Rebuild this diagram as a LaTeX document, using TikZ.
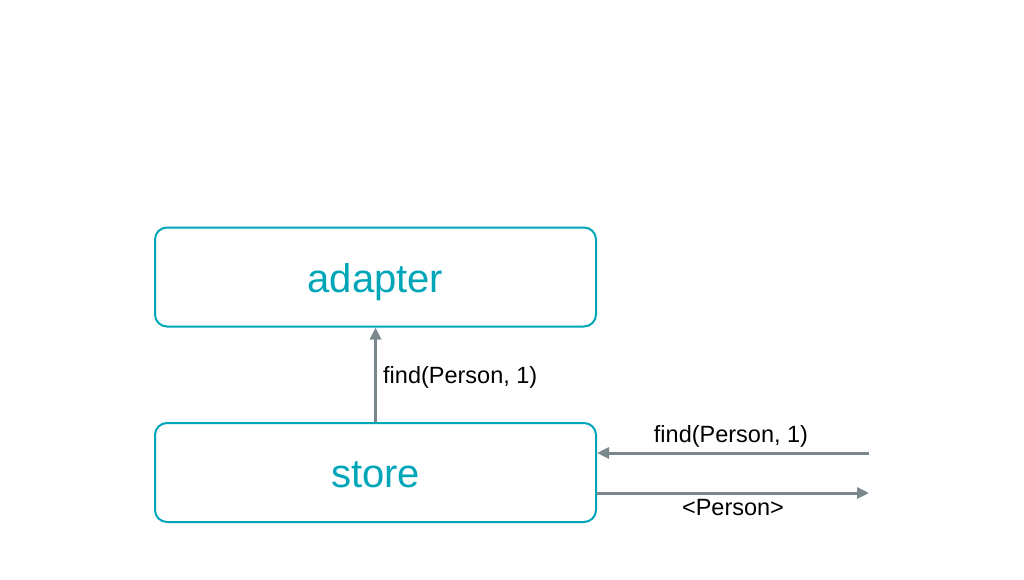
\documentclass[tikz,border=0pt]{standalone}
\usepackage{fontspec}
\setmainfont{Liberation Sans}
\usetikzlibrary{arrows.meta}
\definecolor{teal}{RGB}{0,166,184}
\definecolor{arrowgray}{RGB}{122,136,142}
\begin{document}
\begin{tikzpicture}[x=1pt,y=-1pt,
  box/.style={draw=teal,line width=2pt,rounded corners=12pt,text=teal,
    font=\fontsize{40}{40}\selectfont,minimum width=441pt,minimum height=99pt,
    text height=30pt,text depth=0pt,inner sep=0pt},
  conn/.style={draw=arrowgray,line width=3pt,-{Triangle[length=12pt,width=11pt]}},
  lbl/.style={font=\fontsize{23.5}{24}\selectfont,anchor=base,inner sep=0pt}]
\useasboundingbox (0,0) rectangle (1024,580);
\node[box] (adapter) at (375.5,277) {adapter};
\node[box] (store) at (375.5,472.5) {store};
\coordinate (ext1) at (869,453);
\coordinate (ext2) at (869,493);
\draw[conn] (store.north) -- (adapter.south);
\draw[conn] (ext1) -- (store.east |- ext1);
\draw[conn] (store.east |- ext2) -- (ext2);
\node[lbl,anchor=base west] (l1) at (383,383) {find(Person, 1)};
\node[lbl] (l2) at (731,442) {find(Person, 1)};
\node[lbl] (l3) at (733,515) {<Person>};
\end{tikzpicture}
\end{document}
